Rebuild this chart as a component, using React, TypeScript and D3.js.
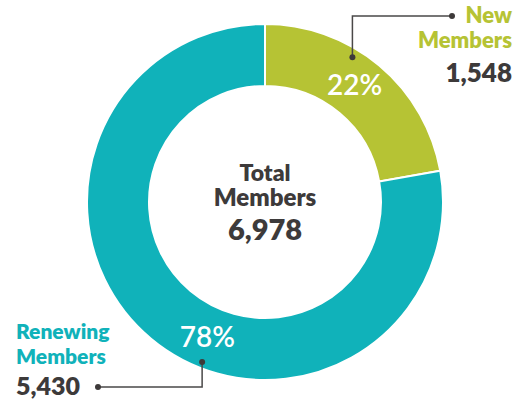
import React from 'react';
import * as d3 from 'd3';

const categories = ['New Members', 'Renewing Members'];
const values = [1548, 5430];
const colors = ['#b6c334', '#10b2ba'];
const total = 6978;

const W = 516;
const H = 405;
const cx = 265;
const cy = 202;
const outerR = 178;
const innerR = 116;

// where each label / leader sits inside its slice (fraction of the slice angle)
const pctFrac = [0.47, 0.44];
const dotFrac = [0.39, 0.434];

const dark = '#3d3a3a';
const font = 'Lato, "Noto Sans", sans-serif';

const App = () => {
  const pie = d3.pie<number>().value(d => d).sort(null);
  const arcs = pie(values);
  const arc = d3.arc<d3.PieArcDatum<number>>().innerRadius(innerR).outerRadius(outerR);
  const fmt = d3.format(',');
  const pct = d3.format('.0%');

  const at = (a: d3.PieArcDatum<number>, f: number, r: number) => {
    const ang = a.startAngle + (a.endAngle - a.startAngle) * f;
    return [r * Math.sin(ang), -r * Math.cos(ang)];
  };

  const [g0x, g0y] = at(arcs[0], dotFrac[0], 169);
  const [t0x, t0y] = at(arcs[1], dotFrac[1], 172);

  return (
    <svg width={W} height={H} style={{ position: 'absolute', left: 0, top: 0 }}>
      <g transform={`translate(${cx},${cy})`}>
        {arcs.map((a, i) => (
          <path key={categories[i]} d={arc(a) || ''} fill={colors[i]} stroke="#fff" strokeWidth={2} />
        ))}
        {arcs.map((a, i) => {
          const [x, y] = at(a, pctFrac[i], 147);
          return (
            <text key={'p' + i} x={x} y={y} dy="0.35em" textAnchor="middle" fill="#fff"
              fontFamily={font} fontSize={28} fontWeight={600}>
              {pct(values[i] / total)}
            </text>
          );
        })}
        {/* leaders */}
        <g stroke="#4a4848" strokeWidth={1.5} fill="none">
          <polyline points={`${g0x},${g0y} ${g0x},${16 - cy} ${452 - cx},${16 - cy}`} />
          <polyline points={`${t0x},${t0y} ${t0x},${387 - cy} ${98 - cx},${387 - cy}`} />
        </g>
        <g fill="#3d3a3a">
          <circle cx={g0x} cy={g0y} r={3} />
          <circle cx={452 - cx} cy={16 - cy} r={3} />
          <circle cx={t0x} cy={t0y} r={3} />
          <circle cx={98 - cx} cy={387 - cy} r={3} />
        </g>
        <g fontFamily={font} fontWeight={800} textAnchor="middle" fill={dark}>
          <text y={-21} fontSize={23}>Total</text>
          <text y={4} fontSize={24}>Members</text>
          <text y={38} fontSize={29}>{fmt(total)}</text>
        </g>
      </g>
      <g fontFamily={font} fontWeight={800} textAnchor="end">
        <text x={512} y={23} fontSize={22} fill={colors[0]}>New</text>
        <text x={512} y={48} fontSize={22} fill={colors[0]}>Members</text>
        <text x={512} y={82} fontSize={26} fill={dark}>{fmt(values[0])}</text>
      </g>
      <g fontFamily={font} fontWeight={800} textAnchor="start">
        <text x={16} y={339} fontSize={21} fill={colors[1]}>Renewing</text>
        <text x={16} y={364} fontSize={21} fill={colors[1]}>Members</text>
        <text x={16} y={395} fontSize={25} fill={dark}>{fmt(values[1])}</text>
      </g>
    </svg>
  );
};

export default App;
